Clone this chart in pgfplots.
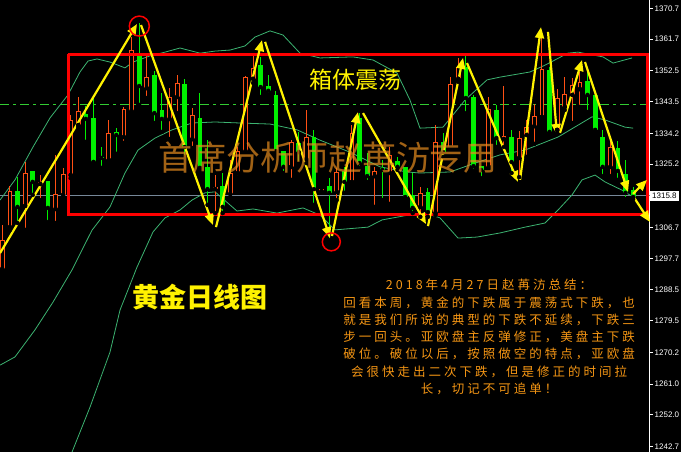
\documentclass[border=0pt]{standalone}
\usepackage{pgfplots}
\pgfplotsset{compat=1.18}
\usepackage{pgfplotstable}
\usepackage{fontspec}
\setmainfont{Liberation Sans}
\newfontfamily\cjk{Noto Sans CJK SC}
\usetikzlibrary{arrows.meta}

\definecolor{upc}{RGB}{255,80,20}
\definecolor{dnc}{RGB}{0,240,0}
\definecolor{band}{RGB}{60,179,113}
\definecolor{lvl}{RGB}{50,205,50}
\definecolor{cur}{RGB}{119,136,153}
\definecolor{note}{RGB}{245,150,20}
\definecolor{wm}{RGB}{230,140,30}

% daily candles: index, open, high, low, close
\pgfplotstableread{
i O H L C
0 1294.6 1307.4 1293.4 1303.0
1 1306.8 1318.8 1306.0 1317.3
3 1313.0 1325.8 1306.0 1322.6
5 1319.4 1322.0 1314.7 1320.0
7 1312.1 1327.9 1308.0 1316.5
8 1316.2 1324.1 1315.3 1322.3
9 1322.0 1339.5 1321.1 1338.1
10 1336.6 1344.8 1336.0 1340.7
14 1326.4 1338.1 1326.4 1334.3
16 1333.1 1341.9 1331.4 1341.3
17 1340.7 1362.3 1339.5 1358.5
19 1347.4 1356.8 1344.5 1350.6
22 1338.4 1347.4 1332.5 1344.8
23 1344.8 1351.2 1340.1 1348.9
25 1332.5 1341.6 1329.9 1339.5
28 1317.9 1322.0 1310.9 1318.5
30 1316.5 1326.4 1315.6 1322.6
31 1322.6 1330.2 1321.4 1329.0
32 1329.0 1350.9 1328.7 1350.6
33 1350.1 1356.8 1348.9 1353.3
38 1324.4 1332.2 1320.6 1331.7
40 1326.7 1341.0 1325.5 1333.1
42 1317.3 1317.9 1317.1 1317.9
44 1317.1 1324.1 1314.7 1322.9
46 1320.0 1336.6 1319.7 1334.3
49 1321.7 1324.4 1312.7 1323.2
51 1322.6 1330.2 1313.6 1327.9
55 1312.7 1318.5 1309.8 1316.8
57 1310.9 1336.6 1310.3 1331.7
59 1330.2 1350.6 1329.9 1348.6
60 1350.1 1356.2 1349.2 1353.6
64 1324.4 1344.8 1324.1 1341.3
66 1332.5 1348.0 1330.2 1333.4
68 1327.0 1334.9 1321.4 1332.8
69 1333.7 1338.1 1327.3 1336.0
70 1336.3 1342.8 1331.1 1339.3
71 1339.0 1363.5 1338.7 1353.0
73 1335.2 1347.1 1334.3 1344.5
74 1341.9 1350.6 1341.0 1345.7
75 1345.4 1350.3 1337.2 1348.3
76 1347.1 1352.1 1341.9 1349.2
80 1324.4 1332.8 1321.7 1330.2
}\up

\pgfplotstableread{
i O H L C
2 1317.3 1321.4 1308.0 1312.7
4 1323.2 1323.2 1316.2 1320.0
6 1320.3 1320.3 1308.3 1312.4
11 1339.8 1342.2 1331.7 1338.4
12 1338.7 1344.8 1325.8 1325.8
13 1327.3 1330.2 1324.1 1327.0
15 1334.6 1335.7 1328.2 1333.7
18 1356.8 1366.4 1342.5 1348.0
20 1351.2 1352.4 1337.2 1340.1
21 1341.0 1346.0 1334.6 1338.4
24 1348.6 1350.1 1327.3 1330.2
26 1338.7 1346.0 1323.5 1324.1
27 1324.4 1332.2 1313.3 1317.9
29 1318.8 1322.6 1310.9 1312.7
34 1354.1 1356.5 1344.8 1347.7
35 1348.0 1351.2 1345.4 1346.6
36 1345.4 1346.6 1328.7 1329.0
37 1329.0 1329.0 1322.6 1324.4
39 1331.4 1334.6 1325.5 1328.7
41 1333.1 1335.2 1313.3 1317.9
43 1318.8 1321.1 1303.0 1316.8
45 1323.2 1324.4 1316.8 1320.0
47 1338.7 1340.1 1324.1 1325.5
48 1324.6 1328.4 1320.0 1321.7
50 1324.1 1326.4 1314.7 1323.5
52 1326.1 1327.3 1323.5 1324.4
53 1324.4 1324.4 1314.7 1315.6
54 1316.2 1322.6 1310.9 1312.4
56 1317.1 1318.2 1309.8 1311.2
58 1331.7 1334.3 1327.3 1328.7
61 1353.6 1356.8 1340.1 1344.5
62 1344.8 1345.4 1323.2 1324.6
63 1324.6 1324.6 1321.1 1323.5
65 1341.0 1342.5 1330.2 1332.8
67 1333.1 1335.2 1322.6 1325.8
72 1352.7 1353.6 1333.7 1334.6
77 1349.5 1352.1 1340.4 1345.4
78 1345.4 1345.4 1334.6 1335.2
79 1333.1 1335.2 1321.7 1324.4
81 1329.9 1332.0 1320.6 1323.2
82 1322.3 1326.4 1315.0 1316.8
83 1317.6 1318.5 1315.0 1315.6
}\dn

% Bollinger bands
\pgfplotstableread{
x y
-0.30 1314.7
1.67 1320.6
4.04 1330.2
6.28 1338.7
8.64 1345.4
10.22 1352.1
11.28 1355.3
12.46 1355.9
14.17 1355.0
16.14 1353.3
17.20 1355.0
19.43 1356.8
21.41 1357.9
23.38 1359.1
26.01 1357.6
27.99 1358.2
29.96 1358.5
31.93 1359.7
33.25 1362.3
35.22 1364.1
36.93 1362.9
39.17 1357.6
41.80 1356.2
46.14 1356.5
48.78 1355.6
51.93 1351.8
53.64 1343.9
54.96 1335.7
57.99 1336.0
60.88 1343.9
63.78 1349.8
65.49 1350.6
69.43 1352.1
71.41 1354.1
74.43 1357.6
75.75 1357.9
79.04 1356.5
80.36 1354.7
82.86 1356.2
}\bbup

\pgfplotstableread{
x y
-0.30 1266.5
1.67 1268.9
4.30 1276.8
6.67 1284.9
9.17 1294.3
11.80 1305.9
14.17 1312.7
16.14 1322.6
17.86 1329.3
20.09 1332.8
22.33 1335.2
24.96 1337.2
27.99 1337.5
31.28 1337.2
35.22 1336.9
38.78 1335.2
41.80 1332.2
45.72 1328.7
49.70 1324.4
53.25 1322.9
54.96 1322.6
58.91 1322.9
62.20 1325.5
65.49 1327.9
68.78 1329.3
73.12 1333.1
77.59 1339.0
79.30 1338.1
81.93 1336.0
82.99 1335.7
}\bbmid

\pgfplotstableread{
x y
7.59 1232.9
9.17 1241.1
11.55 1254.3
14.17 1270.3
15.49 1282.6
17.72 1295.1
19.83 1305.4
21.41 1309.5
23.38 1311.8
24.96 1314.7
26.67 1316.8
27.99 1317.1
30.88 1311.5
32.99 1312.1
36.14 1310.9
39.57 1312.4
41.80 1310.3
43.78 1306.0
48.12 1306.8
49.96 1308.9
53.38 1310.3
55.62 1310.9
57.59 1309.5
59.96 1303.6
62.46 1303.9
65.49 1305.1
68.78 1306.8
71.41 1308.0
73.12 1311.8
74.96 1316.2
76.28 1320.6
77.99 1322.0
79.30 1320.0
81.54 1317.6
82.99 1315.6
}\bblow

\pgfplotsset{
  ebar/.style 2 args={only marks, mark=none,
    error bars/.cd, y dir=plus, y explicit, error mark=none,
    error bar style={line width=#1, draw=#2}},
  arr/.style={yellow, line width=2.2pt, -{Triangle[length=11pt,width=9pt]}},
}

\begin{document}
\begin{tikzpicture}
\useasboundingbox (0,0) rectangle (681pt,452pt);
\fill[black] (0,0) rectangle (681pt,452pt);
\begin{axis}[
  at={(0pt,0pt)}, anchor=south west,
  scale only axis, width=650pt, height=452pt,
  xmin=-0.3026, xmax=85.22, ymin=1241.14, ymax=1373.12,
  axis x line=none, axis y line=right,
  axis line style={draw=white, line width=1pt, -},
  ytick={1242.7,1252.0,1261.0,1270.2,1279.5,1288.5,1297.7,1306.7,1315.8,1325.2,1334.2,1343.5,1352.5,1361.7,1370.7},
  yticklabels={1242.7,1252.0,1261.0,1270.2,1279.5,1288.5,1297.7,1306.7,{},1325.2,1334.2,1343.5,1352.5,1361.7,1370.7},
  yticklabel style={font=\fontsize{8}{9}\selectfont, text=white, inner xsep=1.5pt},
  ytick style={draw=white, line width=0.8pt},
  tick align=outside, major tick length=3pt,
]
% reference levels
\addplot[lvl, line width=1pt, dash pattern=on 9pt off 4pt on 3pt off 4pt] coordinates {(-0.3026,1342.7) (85.22,1342.7)};
\addplot[cur, line width=1pt] coordinates {(-0.3026,1315.9) (85.22,1315.9)};
% bands
\addplot[band, line width=0.8pt] table[x=x,y=y] {\bbup};
\addplot[band, line width=0.8pt] table[x=x,y=y] {\bbmid};
\addplot[band, line width=0.8pt] table[x=x,y=y] {\bblow};
% falling candles
\addplot[ebar={1pt}{dnc}] table[x=i, y=L, y error expr=\thisrow{H}-\thisrow{L}] {\dn};
\addplot[ebar={4.8pt}{dnc}] table[x=i, y=C, y error expr=\thisrow{O}-\thisrow{C}] {\dn};
% rising candles (hollow)
\addplot[ebar={1pt}{upc}] table[x=i, y=L, y error expr=\thisrow{H}-\thisrow{L}] {\up};
\addplot[ebar={4.8pt}{upc}] table[x=i, y=O, y error expr=\thisrow{C}-\thisrow{O}] {\up};
\addplot[only marks, mark=none, error bars/.cd, y dir=plus, y explicit, error mark=none,
  error bar style={line width=2.8pt, draw=black, shorten <=1pt, shorten >=1pt}]
  table[x=i, y=O, y error expr=\thisrow{C}-\thisrow{O}] {\up};
% range box
\addplot[red, line width=3pt, line join=miter] coordinates {(8.68,1357.3) (84.83,1357.3) (84.83,1310.5) (8.68,1310.5) (8.68,1357.3)};
% swing path
\addplot[arr] coordinates {(-0.30,1299.2) (17.72,1366.1)};
\addplot[arr] coordinates {(18.25,1365.8) (27.72,1307.4)};
\addplot[arr] coordinates {(28.12,1306.8) (34.17,1361.4)};
\addplot[arr] coordinates {(34.57,1360.9) (43.12,1303.6)};
\addplot[arr] coordinates {(43.38,1304.2) (46.80,1340.4)};
\addplot[arr] coordinates {(47.46,1340.1) (55.75,1307.7)};
\addplot[arr] coordinates {(56.01,1307.1) (60.62,1356.2)};
\addplot[arr] coordinates {(61.14,1354.7) (67.86,1320.0)};
\addplot[arr] coordinates {(68.12,1320.6) (70.88,1365.2)};
\addplot[arr] coordinates {(71.80,1363.8) (72.99,1333.7)};
\addplot[arr] coordinates {(73.38,1334.3) (76.28,1355.6)};
\addplot[arr] coordinates {(76.67,1355.0) (82.33,1317.1)};
\addplot[arr] coordinates {(82.99,1316.5) (84.83,1320.6)};
\addplot[arr] coordinates {(82.99,1315.9) (85.22,1308.3)};
% swing extremes
\addplot[only marks, mark=o, mark size=10pt, mark options={draw=red, line width=1.5pt}] coordinates {(18.03,1365.5)};
\addplot[only marks, mark=o, mark size=9pt, mark options={draw=red, line width=1.5pt}] coordinates {(43.29,1302.5)};
\end{axis}
% texts
\node[text=yellow, font=\cjk\fontsize{23}{23}\selectfont] at (355pt,372pt) {箱体震荡};
\node[text=wm, opacity=0.7, font=\cjk\fontsize{34}{34}\selectfont] at (328pt,294pt) {首席分析师赵苒汸专用};
\node[text=yellow, font=\cjk\bfseries\fontsize{27}{27}\selectfont] at (200pt,155pt) {黄金日线图};
\node[text=note, align=center, font=\cjk\fontsize{12.5}{17.3}\selectfont\addfontfeature{LetterSpace=24}] at (489pt,115pt)
  {2018年4月27日赵苒汸总结：\\
   回看本周，黄金的下跌属于震荡式下跌，也\\
   就是我们所说的典型的下跌不延续，下跌三\\
   步一回头。亚欧盘主反弹修正，美盘主下跌\\
   破位。破位以后，按照做空的特点，亚欧盘\\
   会很快走出二次下跌，但是修正的时间拉\\
   长，切记不可追单！};
\node[fill=white, text=black, anchor=west, inner xsep=2pt, inner ysep=1.5pt, minimum height=10.5pt, font=\fontsize{8}{9}\selectfont] at (650pt,256pt) {1315.8};
\end{tikzpicture}
\end{document}
